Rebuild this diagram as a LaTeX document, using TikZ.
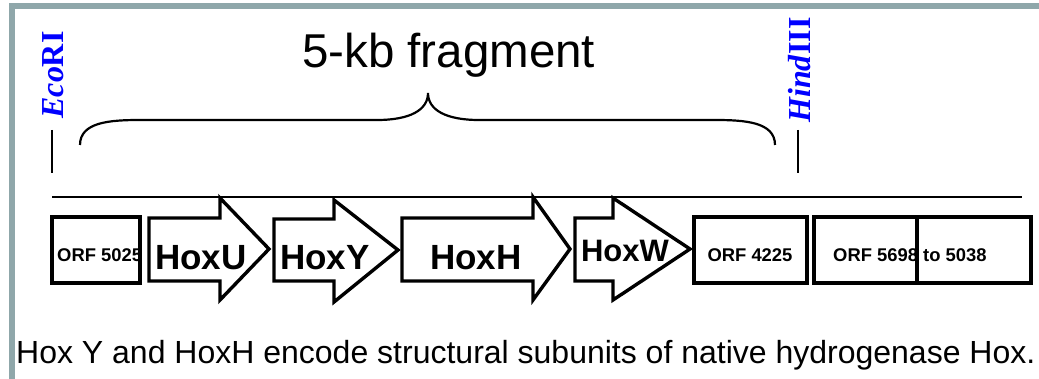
\documentclass[tikz,border=0pt]{standalone}
\usepackage{fontspec}
\setmainfont{Liberation Sans}
\newfontfamily\seriffont{Liberation Serif}
\definecolor{framegray}{RGB}{143,167,170}
\definecolor{siteblue}{RGB}{0,0,255}
\tikzset{
  gene/.style={draw=black, line width=3.4pt, line join=miter, fill=white},
  orfbox/.style={draw=black, line width=3.4pt, fill=white},
  genelabel/.style={font=\bfseries\fontsize{35}{40}\selectfont, inner sep=0pt, anchor=base},
  orflabel/.style={font=\bfseries\fontsize{18.4}{20}\selectfont, inner sep=0pt, anchor=base},
  sitelabel/.style={font=\seriffont\bfseries\fontsize{32}{34}\selectfont, text=siteblue, rotate=90, inner sep=0pt, anchor=base},
  sitetick/.style={line width=2.2pt},
  plain/.style={inner sep=0pt, anchor=base west},
}
\begin{document}
\begin{tikzpicture}[x=1pt,y=-1pt]
\useasboundingbox (0,0) rectangle (1039,379);
\fill[white] (0,0) rectangle (1039,379);
% frame
\draw[framegray, line width=6pt] (1045,6) -- (12,6) -- (12,385);
% title
\node[plain, font=\fontsize{47.5}{50}\selectfont] (title) at (302,68) {5-kb fragment};
% restriction sites
\node[sitelabel] (eco) at (63,75) {\textit{Eco}RI};
\node[sitelabel] (hind) at (810,70) {\textit{Hind}III};
\coordinate (ecoA) at (52,130); \coordinate (ecoB) at (52,173);
\coordinate (hindA) at (798,130); \coordinate (hindB) at (798,173);
\draw[sitetick] (ecoA) -- (ecoB);
\draw[sitetick] (hindA) -- (hindB);
% brace
\coordinate (bl) at (80,145); \coordinate (btip) at (428,93); \coordinate (br) at (775,145);
\draw[line width=2.2pt] (bl) .. controls (80,122) and (110,120) .. (140,120) -- (377,120)
  .. controls (410,120) and (428,110) .. (btip)
  .. controls (428,110) and (446,120) .. (479,120) -- (715,120)
  .. controls (745,120) and (775,122) .. (br);
% DNA line
\coordinate (dnaL) at (52,197); \coordinate (dnaR) at (1022,197);
\draw[line width=2.2pt] (dnaL) -- (dnaR);
% ORF 5025
\draw[orfbox] (52,217) rectangle (140,283);
\node[orflabel, anchor=base west] (orf5025) at (57,262) {ORF 5025};
% HoxU
\draw[gene] (149,218) -- (220,218) -- (220,198) -- (269,249) -- (220,300) -- (220,281) -- (149,281) -- cycle;
\node[genelabel] (hoxu) at (201,270) {HoxU};
% HoxY
\draw[gene] (274,219) -- (334,219) -- (334,200) -- (398,250) -- (334,302) -- (334,281) -- (274,281) -- cycle;
\node[genelabel] (hoxy) at (325,270) {HoxY};
% HoxH
\draw[gene] (402,218) -- (533,218) -- (533,197) -- (570,249) -- (533,300) -- (533,281) -- (402,281) -- cycle;
\node[genelabel] (hoxh) at (476,270) {HoxH};
% HoxW
\draw[gene] (575,218) -- (613,218) -- (613,198) -- (690,249) -- (613,300) -- (613,281) -- (575,281) -- cycle;
\node[genelabel, font=\bfseries\fontsize{31}{34}\selectfont] (hoxw) at (625,262) {HoxW};
% ORF 4225
\draw[orfbox] (694,217) rectangle (807,283);
\node[orflabel] (orf4225) at (750,262) {ORF 4225};
% ORF 5698 to 5038
\draw[orfbox] (814,217) rectangle (1031,283);
\node[orflabel, anchor=base west] (orf5698) at (833,262) {ORF 5698 to 5038};
\draw[line width=3.4pt] (917,217) -- (917,283);
% caption
\node[plain, font=\fontsize{32}{36}\selectfont] (caption) at (16,363) {Hox Y and HoxH encode structural subunits of native hydrogenase Hox.};
\end{tikzpicture}
\end{document}
